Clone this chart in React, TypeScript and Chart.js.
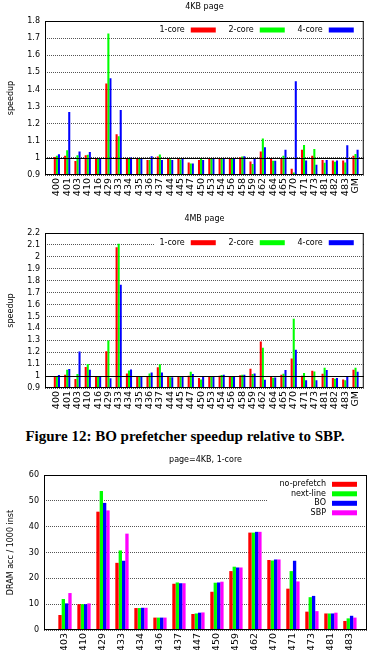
import React, { useEffect, useRef } from 'react';
import { Chart, registerables } from 'chart.js';

Chart.register(...registerables);

const FONT_FAMILY = '"DejaVu Sans", "Liberation Sans", sans-serif';

// ---------------- data ----------------
const benchmarks = ['400', '401', '403', '410', '416', '429', '433', '434', '435', '436', '437', '444', '445', '447', '450', '453', '454', '456', '458', '459', '462', '464', '465', '470', '471', '473', '481', '482', '483', 'GM'];

const page4KB_1core = [1.005, 1.012, 0.982, 1.015, 1.0, 1.435, 1.138, 1.0, 1.0, 0.988, 1.008, 1.0, 1.0, 0.973, 0.987, 1.0, 1.0, 1.0, 1.004, 0.979, 1.038, 0.996, 1.0, 0.937, 1.048, 1.012, 0.988, 0.985, 0.985, 1.013];
const page4KB_2core = [1.012, 1.044, 1.015, 1.019, 1.0, 1.727, 1.126, 1.0, 1.0, 0.988, 1.02, 0.992, 0.99, 0.967, 1.0, 1.0, 1.0, 1.0, 1.008, 0.965, 1.114, 0.983, 1.012, 0.915, 1.076, 1.052, 0.971, 0.977, 0.973, 1.023];
const page4KB_4core = [1.021, 1.268, 1.037, 1.035, 0.998, 1.465, 1.28, 1.002, 0.998, 1.01, 0.988, 0.988, 0.996, 0.967, 0.987, 1.0, 1.0, 1.0, 1.01, 1.0, 1.062, 0.983, 1.047, 1.448, 0.985, 0.96, 0.987, 0.985, 1.074, 1.047];

const page4MB_1core = [1.0, 1.011, 0.975, 1.077, 1.0, 1.208, 2.08, 1.022, 1.0, 1.0, 1.073, 1.0, 1.0, 1.003, 0.983, 1.0, 1.003, 1.0, 1.006, 1.061, 1.29, 0.997, 1.011, 1.148, 1.003, 1.045, 1.02, 0.983, 0.972, 1.053];
const page4MB_2core = [1.0, 1.053, 1.017, 1.101, 0.997, 1.298, 2.11, 1.047, 1.0, 1.022, 1.1, 0.99, 0.992, 1.036, 0.972, 1.0, 1.008, 1.0, 1.011, 1.017, 1.237, 0.986, 1.02, 1.48, 1.025, 1.039, 1.07, 0.978, 0.964, 1.07];
const page4MB_4core = [1.008, 1.06, 1.207, 1.053, 1.0, 0.982, 1.765, 1.056, 1.0, 1.031, 1.031, 0.99, 0.992, 1.017, 0.995, 1.0, 1.011, 1.0, 1.011, 1.022, 0.97, 0.989, 1.05, 1.22, 0.964, 0.966, 1.05, 0.983, 0.997, 1.036];

const dramBenchmarks = ['403', '410', '429', '433', '434', '436', '437', '447', '450', '459', '462', '470', '471', '473', '481', '483'];
const dramNoPrefetch = [5.8, 10.0, 45.8, 26.0, 8.5, 4.8, 17.9, 6.2, 14.8, 22.8, 37.7, 27.1, 16.0, 7.1, 6.4, 3.5];
const dramNextLine = [12.0, 10.0, 53.8, 30.8, 8.5, 4.8, 18.4, 6.4, 18.3, 24.5, 37.7, 26.9, 22.8, 12.7, 6.4, 4.5];
const dramBO = [10.3, 10.0, 49.2, 26.8, 8.6, 4.8, 18.1, 6.7, 18.4, 24.2, 38.0, 27.3, 26.8, 13.2, 6.4, 5.5];
const dramSBP = [14.3, 10.3, 46.3, 37.3, 8.6, 4.8, 18.1, 6.8, 18.7, 24.2, 38.0, 27.3, 18.8, 7.3, 6.7, 4.8];

const ticks4KB = [0.9, 1, 1.1, 1.2, 1.3, 1.4, 1.5, 1.6, 1.7, 1.8];
const ticks4MB = [0.9, 1, 1.1, 1.2, 1.3, 1.4, 1.5, 1.6, 1.7, 1.8, 1.9, 2, 2.1, 2.2];
const ticksDram = [0, 10, 20, 30, 40, 50, 60];

const RED = '#ff0000';
const GREEN = '#00ff00';
const BLUE = '#0000ff';
const MAGENTA = '#ff00ff';

// ---------------- types ----------------
type Series = { label: string; color: string; data: number[] };
type LegendCfg = {
  mode: 'row' | 'column';
  firstY: number;
  step: number;
  swatchW: number;
  rightGap: number;
  textGap: number;
  boxLeft: number;
  boxTop: number;
  boxHeight: number;
};
type PanelCfg = {
  title: string;
  titleY: number;
  labels: string[];
  series: Series[];
  yTicks: number[];
  yTitle: string;
  yWidth: number;
  padTop: number;
  xHeight: number;
  xMin: number;
  xMax: number;
  catPct: number;
  refLine: number | null;
  legend: LegendCfg;
};

function makeDecor(cfg: PanelCfg) {
  return {
    id: 'decor',
    afterDatasetsDraw(chart: any) {
      const { ctx, chartArea: a } = chart;
      const y = chart.scales.y;
      ctx.save();
      if (cfg.refLine !== null) {
        const py = Math.round(y.getPixelForValue(cfg.refLine)) + 0.5;
        ctx.strokeStyle = '#000';
        ctx.lineWidth = 1;
        ctx.beginPath();
        ctx.moveTo(a.left, py);
        ctx.lineTo(a.right, py);
        ctx.stroke();
      }
      const L = cfg.legend;
      ctx.fillStyle = '#fff';
      ctx.fillRect(L.boxLeft, a.top + L.boxTop, a.right - L.boxLeft - 1, L.boxHeight);
      ctx.font = `8px ${FONT_FAMILY}`;
      ctx.textBaseline = 'middle';
      ctx.textAlign = 'right';
      const n = cfg.series.length;
      cfg.series.forEach((s, i) => {
        let sx: number;
        let sy: number;
        if (L.mode === 'row') {
          sx = a.right - L.rightGap - L.swatchW - (n - 1 - i) * L.step;
          sy = a.top + L.firstY;
        } else {
          sx = a.right - L.rightGap - L.swatchW;
          sy = a.top + L.firstY + i * L.step;
        }
        ctx.fillStyle = s.color;
        ctx.fillRect(sx, sy - 2.5, L.swatchW, 5);
        ctx.fillStyle = '#000';
        ctx.fillText(s.label, sx - L.textGap, sy);
      });
      ctx.strokeStyle = '#000';
      ctx.lineWidth = 1;
      ctx.strokeRect(a.left + 0.5, a.top + 0.5, a.right - a.left - 1, a.bottom - a.top - 1);
      ctx.textAlign = 'center';
      ctx.fillStyle = '#000';
      ctx.fillText(cfg.title, (a.left + a.right) / 2, cfg.titleY);
      ctx.restore();
    },
  };
}

function Panel({ cfg, top, height }: { cfg: PanelCfg; top: number; height: number }) {
  const ref = useRef<HTMLCanvasElement>(null);
  useEffect(() => {
    const canvas = ref.current;
    if (!canvas) return;
    const font = { family: FONT_FAMILY, size: 8 };
    const xFont = { family: FONT_FAMILY, size: 9.5 };
    const chart = new Chart(canvas, {
      type: 'bar',
      data: {
        datasets: cfg.series.map((s) => ({
          label: s.label,
          data: s.data.map((v, i) => ({ x: i, y: v })),
          backgroundColor: s.color,
          borderWidth: 0,
          categoryPercentage: cfg.catPct,
          barPercentage: 1,
        })),
      },
      options: {
        animation: false,
        responsive: false,
        devicePixelRatio: 1,
        layout: { padding: { top: cfg.padTop, right: 3, left: 0, bottom: 0 } },
        plugins: {
          legend: { display: false },
          title: { display: false },
          tooltip: { enabled: false },
        },
        scales: {
          x: {
            type: 'linear',
            min: cfg.xMin,
            max: cfg.xMax,
            offset: false,
            bounds: 'data',
            grid: { display: false, drawTicks: false },
            border: { display: false },
            afterBuildTicks: (s: any) => {
              s.ticks = cfg.labels.map((_, i) => ({ value: i }));
            },
            afterFit: (s: any) => {
              s.height = cfg.xHeight;
            },
            ticks: {
              autoSkip: false,
              minRotation: 90,
              maxRotation: 90,
              padding: 3,
              color: '#000',
              font: xFont,
              callback: (v: any) => cfg.labels[v] ?? '',
            },
          },
          y: {
            type: 'linear',
            min: cfg.yTicks[0],
            max: cfg.yTicks[cfg.yTicks.length - 1],
            bounds: 'data',
            afterBuildTicks: (s: any) => {
              s.ticks = cfg.yTicks.map((v) => ({ value: v }));
            },
            afterFit: (s: any) => {
              s.width = cfg.yWidth;
            },
            grid: { display: true, drawTicks: false, color: '#555', lineWidth: 1 },
            border: { display: false, dash: [1, 1] },
            title: {
              display: true,
              text: cfg.yTitle,
              color: '#000',
              font,
              padding: { top: 6, bottom: 0 },
            },
            ticks: {
              autoSkip: false,
              padding: 5,
              color: '#000',
              font,
              callback: (v: any) => String(v),
            },
          },
        },
      } as any,
      plugins: [makeDecor(cfg)],
    });
    return () => chart.destroy();
  }, [cfg]);
  return (
    <canvas
      ref={ref}
      width={370}
      height={height}
      style={{ position: 'absolute', left: 0, top, width: 370, height }}
    />
  );
}

const coreSeries = (a: number[], b: number[], c: number[]): Series[] => [
  { label: '1-core', color: RED, data: a },
  { label: '2-core', color: GREEN, data: b },
  { label: '4-core', color: BLUE, data: c },
];

const rowLegend = (firstY: number): LegendCfg => ({
  mode: 'row',
  firstY,
  step: 69,
  swatchW: 25,
  rightGap: 10,
  textGap: 6,
  boxLeft: 155,
  boxTop: 1,
  boxHeight: 15,
});

const cfg4KB: PanelCfg = {
  title: '4KB page',
  titleY: 6.5,
  labels: benchmarks,
  series: coreSeries(page4KB_1core, page4KB_2core, page4KB_4core),
  yTicks: ticks4KB,
  yTitle: 'speedup',
  yWidth: 45,
  padTop: 21,
  xHeight: 25,
  xMin: -1.154,
  xMax: 29.8,
  catPct: 0.6,
  refLine: 1,
  legend: rowLegend(9),
};

const cfg4MB: PanelCfg = {
  title: '4MB page',
  titleY: 19,
  labels: benchmarks,
  series: coreSeries(page4MB_1core, page4MB_2core, page4MB_4core),
  yTicks: ticks4MB,
  yTitle: 'speedup',
  yWidth: 45,
  padTop: 33,
  xHeight: 24,
  xMin: -1.154,
  xMax: 29.8,
  catPct: 0.6,
  refLine: 1,
  legend: rowLegend(9.7),
};

const cfgDram: PanelCfg = {
  title: 'page=4KB, 1-core',
  titleY: 10,
  labels: dramBenchmarks,
  series: [
    { label: 'no-prefetch', color: RED, data: dramNoPrefetch },
    { label: 'next-line', color: GREEN, data: dramNextLine },
    { label: 'BO', color: BLUE, data: dramBO },
    { label: 'SBP', color: MAGENTA, data: dramSBP },
  ],
  yTicks: ticksDram,
  yTitle: 'DRAM acc / 1000 inst',
  yWidth: 44,
  padTop: 25,
  xHeight: 20,
  xMin: -1.105,
  xMax: 15.9,
  catPct: 0.7,
  refLine: null,
  legend: {
    mode: 'column',
    firstY: 9.3,
    step: 9.5,
    swatchW: 25,
    rightGap: 10,
    textGap: 6,
    boxLeft: 267,
    boxTop: 1,
    boxHeight: 44,
  },
};

export default function App() {
  return (
    <div
      style={{
        position: 'absolute',
        left: 0,
        top: 0,
        width: 370,
        height: 650,
        overflow: 'hidden',
        background: '#fff',
      }}
    >
      <Panel cfg={cfg4KB} top={0} height={200} />
      <Panel cfg={cfg4MB} top={200} height={212} />
      <div
        style={{
          position: 'absolute',
          left: 0,
          top: 427,
          width: 370,
          textAlign: 'center',
          fontFamily: '"Liberation Serif", "Times New Roman", serif',
          fontWeight: 'bold',
          fontSize: 15,
          lineHeight: '18px',
          color: '#000',
          whiteSpace: 'nowrap',
        }}
      >
        Figure 12: BO prefetcher speedup relative to SBP.
      </div>
      <Panel cfg={cfgDram} top={450} height={200} />
    </div>
  );
}
